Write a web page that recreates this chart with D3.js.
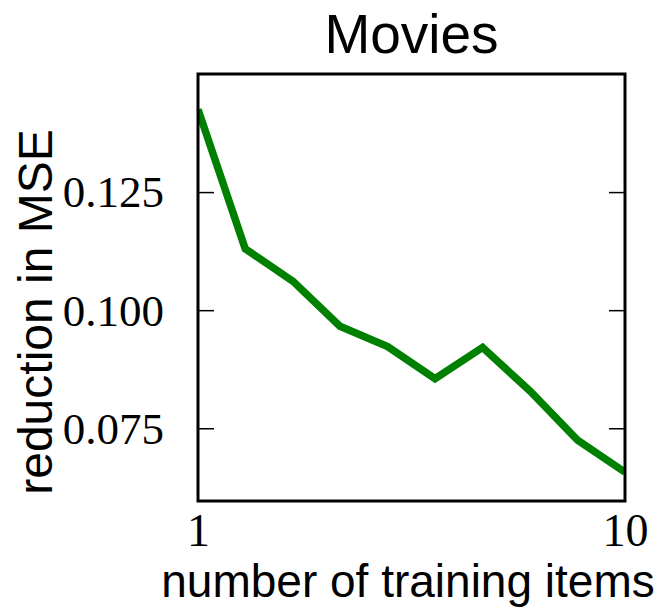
<!DOCTYPE html>
<html>
<head>
<meta charset="utf-8">
<script src="https://cdn.jsdelivr.net/npm/d3@7"></script>
<style>
  html, body { margin: 0; padding: 0; background: #fff; }
  svg { display: block; }
</style>
</head>
<body>
<svg id="chart" width="667" height="610"></svg>
<script>
// Training-set sizes (log-spaced from 1 to 10) and the MSE reduction at each
const trainingItems = [1, 1.29, 1.67, 2.15, 2.78, 3.59, 4.64, 5.99, 7.74, 10];
const mseReduction = [0.1425, 0.1130, 0.1061, 0.0966, 0.0923, 0.0855, 0.0921, 0.0829, 0.0725, 0.0657];
const yTicks = [0.075, 0.100, 0.125];
const xTicks = [1, 10];

const svg = d3.select("#chart");
const margin = { left: 198, right: 42, top: 74, bottom: 109 };
const W = 667, H = 610;
const x0 = margin.left, x1 = W - margin.right;
const y0 = margin.top, y1 = H - margin.bottom;

const x = d3.scaleLog().domain([1, 10]).range([x0, x1]);
const y = d3.scaleLinear().domain([0.0596, 0.150]).range([y1, y0]);

const serif = "'Liberation Serif', 'DejaVu Serif', serif";
const sans = "'Liberation Sans', Arial, Helvetica, sans-serif";

// clip the line to the axes box
svg.append("clipPath").attr("id", "plotclip")
  .append("rect").attr("x", x0).attr("y", y0).attr("width", x1 - x0).attr("height", y1 - y0);

// data line
const line = d3.line().x((d, i) => x(trainingItems[i])).y(d => y(d));
svg.append("path")
  .datum(mseReduction)
  .attr("clip-path", "url(#plotclip)")
  .attr("d", line)
  .attr("fill", "none")
  .attr("stroke", "#008000")
  .attr("stroke-width", 7.5)
  .attr("stroke-linejoin", "miter");

// y ticks: inward on both left and right spines
const tickLen = 16;
const leftAxis = d3.axisLeft(y).tickValues(yTicks).tickSizeInner(-tickLen).tickSizeOuter(0).tickFormat(d3.format(".3f")).tickPadding(tickLen + 18);
const gy = svg.append("g").attr("transform", `translate(${x0},0)`).call(leftAxis);
gy.select(".domain").remove();
gy.selectAll(".tick line").attr("stroke", "#000").attr("stroke-width", 1.5);
gy.selectAll(".tick text")
  .attr("font-family", serif).attr("font-size", 45).attr("fill", "#000")
  .attr("font-weight", 300)
  .attr("dy", "0.33em");

const rightAxis = d3.axisRight(y).tickValues(yTicks).tickSizeInner(-tickLen).tickSizeOuter(0).tickFormat("");
const gyr = svg.append("g").attr("transform", `translate(${x1},0)`).call(rightAxis);
gyr.select(".domain").remove();
gyr.selectAll(".tick line").attr("stroke", "#000").attr("stroke-width", 1.5);

// x tick labels
const bottomAxis = d3.axisBottom(x).tickValues(xTicks).tickSize(0).tickPadding(12).tickFormat(d3.format("d"));
const gx = svg.append("g").attr("transform", `translate(0,${y1})`).call(bottomAxis);
gx.select(".domain").remove();
gx.selectAll(".tick text")
  .attr("font-family", serif).attr("font-size", 46).attr("fill", "#000")
  .attr("dy", "0.71em");

// axes frame
svg.append("rect")
  .attr("x", x0).attr("y", y0).attr("width", x1 - x0).attr("height", y1 - y0)
  .attr("fill", "none").attr("stroke", "#000").attr("stroke-width", 3);

// title and axis labels
svg.append("text")
  .attr("x", (x0 + x1) / 2).attr("y", 53)
  .attr("text-anchor", "middle")
  .attr("font-family", sans).attr("font-size", 55).attr("fill", "#000")
  .text("Movies");

svg.append("text")
  .attr("x", 408).attr("y", 597)
  .attr("text-anchor", "middle")
  .attr("font-family", sans).attr("font-size", 46).attr("fill", "#000")
  .text("number of training items");

svg.append("text")
  .attr("transform", "translate(52,312) rotate(-90)")
  .attr("text-anchor", "middle")
  .attr("font-family", sans).attr("font-size", 48).attr("fill", "#000")
  .text("reduction in MSE");
</script>
</body>
</html>
